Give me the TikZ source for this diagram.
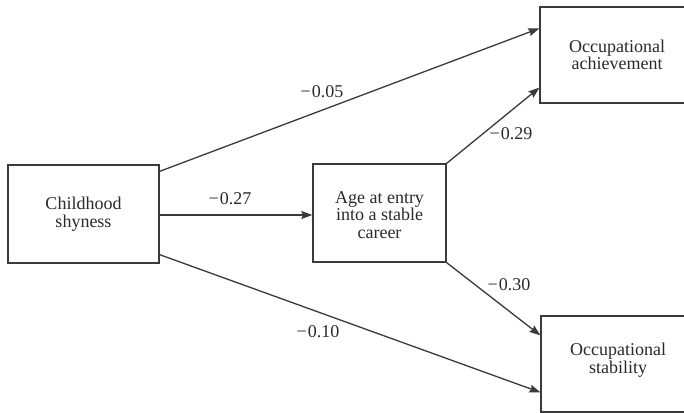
\documentclass[tikz,border=0pt]{standalone}
\usepackage{fontspec}
\setmainfont{Liberation Serif}
\usetikzlibrary{arrows.meta}
\definecolor{ink}{HTML}{3A3A3A}
\definecolor{txt}{HTML}{2A2A2A}
\tikzset{
  box/.style={draw=ink, line width=1.3pt, rectangle, inner sep=0pt},
  lbl/.style={text=txt, font=\fontsize{18}{17.5}\selectfont, align=center, inner sep=0pt},
  coef/.style={text=txt, font=\fontsize{18}{17.5}\selectfont, inner sep=0pt},
  path/.style={draw=ink, line width=1.3pt, -{Stealth[length=11pt, width=8pt, inset=1.5pt]}}
}
\newcommand{\coefval}[1]{−\kern1pt#1}
\begin{document}
\begin{tikzpicture}[x=1pt, y=-1pt]
  \path[use as bounding box, clip] (0,0) rectangle (684,412);
  \fill[white] (0,0) rectangle (684,412);

  % boxes
  \node[box, minimum width=151pt, minimum height=98pt] (shy) at (83.5,214) {};
  \node[box, minimum width=133pt, minimum height=98pt] (age) at (379.5,213) {};
  \node[box, minimum width=154pt, minimum height=96pt] (ach) at (617,55) {};
  \node[box, minimum width=154pt, minimum height=96pt] (stab) at (618,364) {};

  % box texts
  \node[lbl] (shyT) at (shy.center) {Childhood\\shyness};
  \node[lbl] (ageT) at ([yshift=-2pt]age.center) {Age at entry\\into a stable\\career};
  \node[lbl] (achT) at (ach.center) {Occupational\\achievement};
  \node[lbl] (stabT) at ([yshift=4pt]stab.center) {Occupational\\stability};

  % paths
  \draw[path] ([yshift=-7pt]shy.north east) -- ([yshift=-22pt]ach.north west);
  \draw[path] ([yshift=-1pt]shy.east) -- ([yshift=-1pt]shy.east -| age.west);
  \draw[path] ([yshift=9pt]shy.south east) -- ([yshift=-77pt]stab.north west);
  \draw[path] (age.north east) -- ([yshift=16pt]ach.south west);
  \draw[path] (age.south east) -- ([yshift=-20pt]stab.north west);

  % coefficients
  \node[coef] (c1) at (322,92) {\coefval{0.05}};
  \node[coef] (c2) at (230,199) {\coefval{0.27}};
  \node[coef] (c3) at (318,332) {\coefval{0.10}};
  \node[coef] (c4) at (511,134) {\coefval{0.29}};
  \node[coef] (c5) at (509,285) {\coefval{0.30}};
\end{tikzpicture}
\end{document}
